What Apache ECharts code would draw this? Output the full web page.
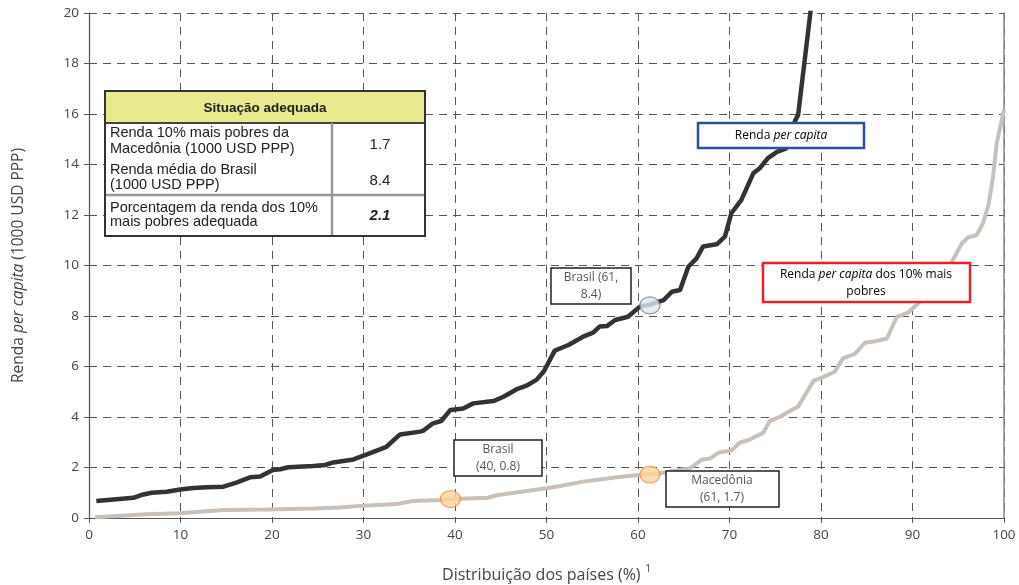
<!DOCTYPE html>
<html>
<head>
<meta charset="utf-8">
<script src="https://cdn.jsdelivr.net/npm/echarts@6/dist/echarts.min.js"></script>
<style>html,body{margin:0;padding:0;background:#fff}#c{width:1019px;height:585px}</style>
</head>
<body>
<div id="c"></div>
<script>
// Renda per capita (black curve)
const capitaX = [0.8,4.85,5.7,6.85,8.5,9.95,11.4,12.9,14.7,16.1,17.6,18.7,20.1,20.9,21.8,24.5,25.8,26.7,27.8,28.9,30.3,31.8,32.5,34.0,36.2,36.5,37.6,38.5,39.5,40.9,42.0,44.2,45.3,46.7,47.8,48.9,49.7,50.9,52.4,54.0,55.1,55.8,56.6,57.5,58.9,60.2,61.3,62.8,63.7,64.6,65.5,66.4,67.1,68.6,69.5,70.2,71.3,72.6,73.3,74.2,75.2,76.2,77.2,77.5,79.0];
const capitaY = [0.67,0.80,0.91,1.00,1.04,1.13,1.19,1.22,1.24,1.40,1.61,1.64,1.90,1.93,2.01,2.06,2.10,2.20,2.26,2.32,2.51,2.72,2.82,3.31,3.42,3.45,3.75,3.84,4.28,4.34,4.54,4.63,4.80,5.09,5.24,5.47,5.80,6.63,6.85,7.18,7.34,7.58,7.60,7.84,7.97,8.37,8.45,8.63,8.96,9.03,9.95,10.28,10.75,10.84,11.14,12.07,12.6,13.65,13.85,14.25,14.5,14.64,15.76,15.96,20.5];
// Renda per capita dos 10% mais pobres (grey curve)
const poorX = [0.66,6.3,9.9,14.7,19.4,24.5,27.4,30.0,33.6,35.4,38.7,40.5,43.6,44.7,50.0,51.5,54.0,57.7,59.5,60.2,62.4,65.7,67.0,67.9,68.8,70.2,71.1,72.1,73.7,74.4,75.5,76.8,77.5,79.2,80.1,81.5,82.4,83.7,84.8,85.9,87.2,88.3,89.5,90.6,94.3,95.4,96.1,97.0,97.7,98.3,98.8,99.2,99.6,100];
const poorY = [0.03,0.15,0.19,0.32,0.34,0.38,0.42,0.49,0.55,0.67,0.71,0.76,0.80,0.91,1.18,1.27,1.44,1.61,1.68,1.70,1.77,1.97,2.32,2.36,2.59,2.67,2.98,3.09,3.38,3.84,4.01,4.28,4.41,5.44,5.56,5.79,6.32,6.50,6.94,7.00,7.11,7.97,8.13,8.5,10.15,10.88,11.12,11.2,11.67,12.4,13.5,14.84,15.5,16.16];
// highlighted points
const orangePts = [[39.5, 0.75], [61.3, 1.72]];
const bluePts = [[61.3, 8.42]];
// table
const tableTitle = 'Situação adequada';
const tableRows = [
  ['Renda 10% mais pobres da', 'Macedônia (1000 USD PPP)', '1.7'],
  ['Renda média do Brasil', '(1000 USD PPP)', '8.4'],
  ['Porcentagem da renda dos 10%', 'mais pobres adequada', '2.1']
];
const xTicks = [0,10,20,30,40,50,60,70,80,90,100];

const zip = (a, b) => a.map((v, i) => [v, b[i]]);
const chart = echarts.init(document.getElementById('c'));
const F = '"Open Sans", sans-serif';
const TF = '"Liberation Sans", Arial, sans-serif';

function box(x, y, w, h, color, lw, textObj) {
  return [
    {type:'rect', z:100, shape:{x:x, y:y, width:w, height:h}, style:{fill:'#fff', stroke:color, lineWidth:lw}},
    Object.assign({type:'text', z:101}, textObj)
  ];
}
const annRich = {a:{fontFamily:F, fontSize:12, color:'#555', lineHeight:17}, i:{fontFamily:F, fontSize:12, color:'#555', fontStyle:'italic', lineHeight:17}};

const graphics = [].concat(
  box(551, 268, 80, 36, '#222', 1.5, {x:591, y:286, style:{text:'Brasil (61,\n8.4)', font:'12px ' + F, fill:'#555', align:'center', verticalAlign:'middle', lineHeight:17}}),
  box(454, 440, 88, 36, '#222', 1.5, {x:498, y:458, style:{text:'Brasil\n(40, 0.8)', font:'12px ' + F, fill:'#555', align:'center', verticalAlign:'middle', lineHeight:17}}),
  box(666, 471, 113, 36, '#222', 1.5, {x:722, y:489, style:{text:'Macedônia\n(61, 1.7)', font:'12px ' + F, fill:'#555', align:'center', verticalAlign:'middle', lineHeight:17}}),
  box(698, 123, 166, 25, '#2f4f9f', 2.5, {x:781, y:136, style:{text:'{a|Renda }{i|per capita}', rich:annRich, align:'center', verticalAlign:'middle'}}),
  box(763, 263, 207, 39, '#e8202a', 2.5, {x:866, y:283, style:{text:'{a|Renda }{i|per capita}{a| dos 10% mais}\n{a|pobres}', rich:annRich, align:'center', verticalAlign:'middle'}}),
  [
    {type:'rect', z:100, shape:{x:105, y:91, width:320, height:145}, style:{fill:'#fff', stroke:'#333', lineWidth:2}},
    {type:'rect', z:101, shape:{x:106, y:92, width:318, height:31}, style:{fill:'#e9e98f'}},
    {type:'line', z:102, shape:{x1:105, y1:123, x2:425, y2:123}, style:{stroke:'#444', lineWidth:2}},
    {type:'line', z:102, shape:{x1:105, y1:195, x2:425, y2:195}, style:{stroke:'#999', lineWidth:2.5}},
    {type:'line', z:102, shape:{x1:332, y1:123, x2:332, y2:236}, style:{stroke:'#999', lineWidth:2.5}},
    {type:'rect', z:103, shape:{x:105, y:91, width:320, height:145}, style:{fill:'none', stroke:'#333', lineWidth:2}},
    {type:'text', z:104, x:265, y:108, style:{text:tableTitle, font:'bold 13.5px ' + TF, fill:'#222', align:'center', verticalAlign:'middle'}},
    {type:'text', z:104, x:110, y:133, style:{text:tableRows[0][0], font:'14.5px ' + TF, fill:'#222', verticalAlign:'middle'}},
    {type:'text', z:104, x:110, y:148.5, style:{text:tableRows[0][1], font:'14.5px ' + TF, fill:'#222', verticalAlign:'middle'}},
    {type:'text', z:104, x:110, y:170, style:{text:tableRows[1][0], font:'14.5px ' + TF, fill:'#222', verticalAlign:'middle'}},
    {type:'text', z:104, x:110, y:184.5, style:{text:tableRows[1][1], font:'14.5px ' + TF, fill:'#222', verticalAlign:'middle'}},
    {type:'text', z:104, x:110, y:207.5, style:{text:tableRows[2][0], font:'14.5px ' + TF, fill:'#222', verticalAlign:'middle'}},
    {type:'text', z:104, x:110, y:222, style:{text:tableRows[2][1], font:'14.5px ' + TF, fill:'#222', verticalAlign:'middle'}},
    {type:'text', z:104, x:380, y:144.5, style:{text:tableRows[0][2], font:'15px ' + TF, fill:'#222', align:'center', verticalAlign:'middle'}},
    {type:'text', z:104, x:380, y:181, style:{text:tableRows[1][2], font:'15px ' + TF, fill:'#222', align:'center', verticalAlign:'middle'}},
    {type:'text', z:104, x:380, y:216, style:{text:tableRows[2][2], font:'italic bold 15px ' + TF, fill:'#222', align:'center', verticalAlign:'middle'}}
  ]
);

const option = {
  animation: false,
  backgroundColor: '#fff',
  grid: {left: 89, right: 15, top: 13, bottom: 67, containLabel: false, outerBoundsMode: 'none'},
  xAxis: {
    type: 'value', min: 0, max: 100, interval: 10,
    name: '{n|Distribuição dos países (%)}{s| 1}',
    nameLocation: 'middle', nameGap: 46,
    nameTextStyle: {rich: {n:{fontFamily:F, fontSize:16, color:'#444', lineHeight:22}, s:{fontFamily:F, fontSize:10, color:'#444', verticalAlign:'top', lineHeight:22, padding:[0,0,10,2]}}},
    axisLine: {show: true, onZero: false, lineStyle: {color: '#555', width: 1.2}},
    axisTick: {show: true, length: 5, lineStyle: {color: '#555'}},
    axisLabel: {color: '#444', fontFamily: F, fontSize: 13.5, margin: 10, formatter: v => xTicks.includes(v) ? String(v) : ''},
    splitLine: {show: true, lineStyle: {color: '#555', type: [8, 6], width: 1}}
  },
  yAxis: [{
    type: 'value', min: 0, max: 20, interval: 2,
    name: '{a|Renda }{i|per capita}{a| (1000 USD PPP)}',
    nameLocation: 'middle', nameGap: 62, nameRotate: 90,
    nameTextStyle: {rich: {a:{fontFamily:F, fontSize:15.5, color:'#444'}, i:{fontFamily:F, fontSize:15.5, color:'#444', fontStyle:'italic'}}},
    axisLine: {show: true, lineStyle: {color: '#555', width: 1.2}},
    axisTick: {show: true, length: 5, lineStyle: {color: '#555'}},
    axisLabel: {color: '#444', fontFamily: F, fontSize: 13.5, margin: 10},
    splitLine: {show: true, lineStyle: {color: '#555', type: [8, 6], width: 1}}
  }, {
    type: 'value', min: 0, max: 20, interval: 2, position: 'right',
    axisLine: {show: true, lineStyle: {color: '#888', width: 1.5}},
    axisTick: {show: false}, axisLabel: {show: false}, splitLine: {show: false}
  }],
  series: [
    {type: 'line', data: zip(poorX, poorY), showSymbol: false, symbol: 'none', clip: true,
     lineStyle: {color: '#c8c0b9', width: 4}, z: 3},
    {type: 'line', data: zip(capitaX, capitaY), showSymbol: false, symbol: 'none', clip: true,
     lineStyle: {color: '#333333', width: 4.5}, z: 4},
    {type: 'scatter', data: orangePts, symbol: 'circle', symbolSize: [20, 17], z: 5,
     itemStyle: {color: '#fdd39a', borderColor: '#f08a3c', borderWidth: 1.2}},
    {type: 'scatter', data: bluePts, symbol: 'circle', symbolSize: [20, 17], z: 5,
     itemStyle: {color: '#dcecee', borderColor: '#7f6fb0', borderWidth: 1.2}}
  ],
  graphic: graphics
};
chart.setOption(option);
</script>
</body>
</html>
